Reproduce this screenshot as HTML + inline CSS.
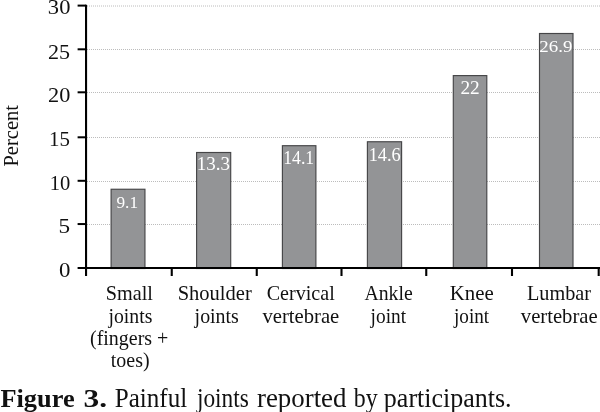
<!DOCTYPE html>
<html lang="en">
<head>
<meta charset="utf-8">
<title>Figure 3. Painful joints reported by participants.</title>
<style>
html,body{margin:0;padding:0;background:#fff;}
body{width:600px;height:412px;overflow:hidden;}
svg{display:block;font-family:"Liberation Serif","DejaVu Serif",serif;fill:#111;}
.grid{stroke:#bcbcbc;stroke-width:1;stroke-dasharray:1 1;fill:none;}
.bar{fill:#939496;stroke:#454547;stroke-width:1.15;}
.ax{stroke:#000;fill:none;}
</style>
</head>
<body>
<svg width="600" height="412" viewBox="0 0 600 412">
<rect x="0" y="0" width="600" height="412" fill="#ffffff"/>

<g class="grid">
<line x1="87" y1="6.00" x2="600" y2="6.00"/>
<line x1="87" y1="49.50" x2="600" y2="49.50"/>
<line x1="87" y1="92.50" x2="600" y2="92.50"/>
<line x1="87" y1="137.50" x2="600" y2="137.50"/>
<line x1="87" y1="181.50" x2="600" y2="181.50"/>
<line x1="87" y1="224.50" x2="600" y2="224.50"/>
</g>
<g class="bar">
<rect x="111.10" y="189.25" width="33.85" height="79.25"/>
<rect x="196.60" y="152.50" width="34.10" height="116.00"/>
<rect x="282.40" y="145.70" width="33.50" height="122.80"/>
<rect x="367.40" y="141.75" width="34.20" height="126.75"/>
<rect x="453.30" y="75.60" width="33.50" height="192.90"/>
<rect x="539.50" y="33.50" width="33.50" height="235.00"/>
</g>
<g class="ax">
<line x1="86.05" y1="4.75" x2="86.05" y2="276" stroke-width="2.1"/>
<line x1="77.6" y1="268.05" x2="600" y2="268.05" stroke-width="2"/>
<line x1="77.6" y1="5.60" x2="86" y2="5.60" stroke-width="2"/>
<line x1="77.6" y1="49.30" x2="86" y2="49.30" stroke-width="2"/>
<line x1="77.6" y1="92.30" x2="86" y2="92.30" stroke-width="2"/>
<line x1="77.6" y1="137.30" x2="86" y2="137.30" stroke-width="2"/>
<line x1="77.6" y1="180.80" x2="86" y2="180.80" stroke-width="2"/>
<line x1="77.6" y1="224.05" x2="86" y2="224.05" stroke-width="2"/>
<line x1="171.75" y1="268" x2="171.75" y2="276" stroke-width="2.1"/>
<line x1="256.75" y1="268" x2="256.75" y2="276" stroke-width="2.1"/>
<line x1="341.50" y1="268" x2="341.50" y2="276" stroke-width="2.1"/>
<line x1="426.25" y1="268" x2="426.25" y2="276" stroke-width="2.1"/>
<line x1="512.00" y1="268" x2="512.00" y2="276" stroke-width="2.1"/>
<line x1="598.70" y1="268" x2="598.70" y2="276" stroke-width="2.1"/>
</g>
<g>
<text transform="translate(47.87 14.30) scale(1.0576 1.0000)" font-size="21.3">30</text>
<text transform="translate(48.01 58.80) scale(1.0365 1.0000)" font-size="21.3">25</text>
<text transform="translate(48.00 102.00) scale(1.0467 1.0000)" font-size="21.3">20</text>
<text transform="translate(49.12 146.10) scale(0.9821 1.0000)" font-size="21.3">15</text>
<text transform="translate(49.65 189.55) scale(0.9633 1.0000)" font-size="21.3">10</text>
<text transform="translate(58.50 232.50) scale(1.0915 1.0000)" font-size="21.3">5</text>
<text transform="translate(58.89 276.70) scale(1.0731 1.0000)" font-size="21.3">0</text>
</g>
<text transform="translate(18.10 166.62) rotate(-90) scale(0.9437 1.0000)" font-size="21.8">Percent</text>
<g fill="#fff">
<text transform="translate(116.48 207.50) scale(0.9741 1.0000)" font-size="17.7">9.1</text>
<text transform="translate(196.69 170.10) scale(1.0621 1.0000)" font-size="17.9">13.3</text>
<text transform="translate(283.20 163.80) scale(0.9916 1.0000)" font-size="17.9">14.1</text>
<text transform="translate(368.65 160.80) scale(0.9969 1.0000)" font-size="18.4">14.6</text>
<text transform="translate(460.43 94.30) scale(1.0801 1.0000)" font-size="17.9">22</text>
<text transform="translate(539.30 52.35) scale(1.0749 1.0000)" font-size="17.6">26.9</text>
</g>
<g>
<text transform="translate(105.79 300.25) scale(0.9276 1.0000)" font-size="21.8">Small</text>
<text transform="translate(108.49 322.50) scale(0.9050 1.0000)" font-size="21.8">joints</text>
<text transform="translate(90.00 345.00) scale(0.9162 1.0000)" font-size="21.8">(fingers +</text>
<text transform="translate(110.80 367.10) scale(0.9150 1.0000)" font-size="21.8">toes)</text>
<text transform="translate(177.67 300.25) scale(0.9421 1.0000)" font-size="21.8">Shoulder</text>
<text transform="translate(194.60 322.50) scale(0.9133 1.0000)" font-size="21.8">joints</text>
<text transform="translate(266.70 300.25) scale(0.9216 1.0000)" font-size="21.8">Cervical</text>
<text transform="translate(262.40 322.50) scale(0.9486 1.0000)" font-size="21.8">vertebrae</text>
<text transform="translate(364.40 300.25) scale(0.9060 1.0000)" font-size="21.8">Ankle</text>
<text transform="translate(370.58 322.50) scale(0.8878 1.0000)" font-size="21.8">joint</text>
<text transform="translate(449.78 300.25) scale(0.9556 1.0000)" font-size="21.8">Knee</text>
<text transform="translate(453.98 322.50) scale(0.8804 1.0000)" font-size="21.8">joint</text>
<text transform="translate(526.89 300.25) scale(0.9292 1.0000)" font-size="21.8">Lumbar</text>
<text transform="translate(520.80 322.50) scale(0.9486 1.0000)" font-size="21.8">vertebrae</text>
</g>
<g>
<text transform="translate(0.45 406.60) scale(1.0217 1.0000)" font-size="25.8" font-weight="bold">Figure</text>
<text transform="translate(83.44 406.90) scale(1.2182 1.0000)" font-size="25.8" font-weight="bold">3.</text>
<text transform="translate(114.75 406.60) scale(0.9503 1.0000)" font-size="26.4">Painful</text>
<text transform="translate(196.95 406.60) scale(0.8850 1.0000)" font-size="26.4">joints</text>
<text transform="translate(256.96 406.60) scale(1.0187 1.0000)" font-size="26.4">reported</text>
<text transform="translate(353.75 406.60) scale(0.9041 1.0000)" font-size="26.4">by</text>
<text transform="translate(383.86 406.60) scale(0.9852 1.0000)" font-size="26.4">participants.</text>
</g>
</svg>
</body>
</html>
